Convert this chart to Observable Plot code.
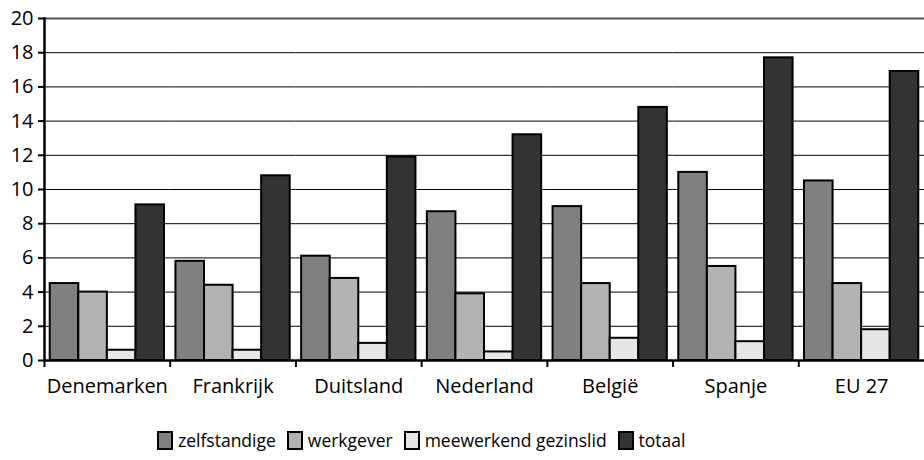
<!DOCTYPE html>
<html><head><meta charset="utf-8">
<script src="https://cdn.jsdelivr.net/npm/d3@7"></script>
<script src="https://cdn.jsdelivr.net/npm/@observablehq/plot@0.6"></script>
<style>
body{margin:0;background:#fff;font-family:"Open Sans","DejaVu Sans",sans-serif;color:#000;}
#chart{width:924px;height:415px;}
#legend{display:flex;align-items:center;padding-left:157px;margin-top:13px;font-size:17.5px;line-height:24px;}
#legend .item{display:flex;align-items:center;margin-right:11px;}
#legend .sw{width:12px;height:15px;border:2.5px solid #000;margin-right:5px;}
</style></head><body>
<div id="chart"></div>
<div id="legend"></div>
<script>
const countries = ["Denemarken","Frankrijk","Duitsland","Nederland","België","Spanje","EU 27"];
const series = ["zelfstandige","werkgever","meewerkend gezinslid","totaal"];
const zelfstandige = [4.5, 5.8, 6.1, 8.7, 9.0, 11.0, 10.5];
const werkgever    = [4.0, 4.4, 4.8, 3.9, 4.5, 5.5, 4.5];
const meewerkend   = [0.6, 0.6, 1.0, 0.5, 1.3, 1.1, 1.8];
const totaal       = [9.1, 10.8, 11.9, 13.2, 14.8, 17.7, 16.9];
const yTicks = [0, 2, 4, 6, 8, 10, 12, 14, 16, 18, 20];
const colors = ["#808080", "#b3b3b3", "#e6e6e6", "#333333"];

const seriesValues = [zelfstandige, werkgever, meewerkend, totaal];
const data = countries.flatMap((c, i) => seriesValues.map((arr, j) => ({country: c, series: series[j], value: arr[i]})));

const W = 924, ML = 44, MR = 0;
const band = (W - ML - MR) / countries.length;

const chart = Plot.plot({
  width: W, height: 415,
  marginLeft: ML, marginRight: MR, marginTop: 18, marginBottom: 55,
  style: {fontFamily: '"Open Sans", "DejaVu Sans", sans-serif', fontSize: "20px", color: "#000", background: "#fff", overflow: "visible"},
  fx: {domain: countries, paddingInner: 0, paddingOuter: 0, round: false, label: null},
  x: {domain: series, paddingInner: 0, paddingOuter: 0.2, round: false, axis: null},
  y: {domain: [0, 20], label: null},
  color: {domain: series, range: colors},
  marks: [
    Plot.gridY(yTicks, {stroke: "#000", strokeOpacity: 1, strokeWidth: 1}),
    Plot.ruleY([20], {stroke: "#555", strokeWidth: 2}),
    Plot.barY(data, {fx: "country", x: "series", y: "value", fill: "series", stroke: "#000", strokeWidth: 2}),
    Plot.ruleY([0], {stroke: "#000", strokeWidth: 2.5}),
    Plot.axisY(yTicks, {tickSize: 6, tickPadding: 5, label: null, fontSize: 20, strokeWidth: 2}),
    Plot.axisFx({anchor: "bottom", tickSize: 0, tickPadding: 18, label: null, fontSize: 20}),
    Plot.axisFx({anchor: "bottom", tickSize: 7, tickFormat: () => "", dx: -band / 2, label: null, strokeWidth: 2}),
    Plot.frame({anchor: "left", facet: "super", stroke: "#000", strokeWidth: 2.5})
  ]
});
document.getElementById("chart").appendChild(chart);

const legend = document.getElementById("legend");
series.forEach((s, i) => {
  const item = document.createElement("div");
  item.className = "item";
  const sw = document.createElement("span");
  sw.className = "sw";
  sw.style.background = colors[i];
  const t = document.createElement("span");
  t.textContent = s;
  item.appendChild(sw); item.appendChild(t);
  legend.appendChild(item);
});
</script>
</body></html>
